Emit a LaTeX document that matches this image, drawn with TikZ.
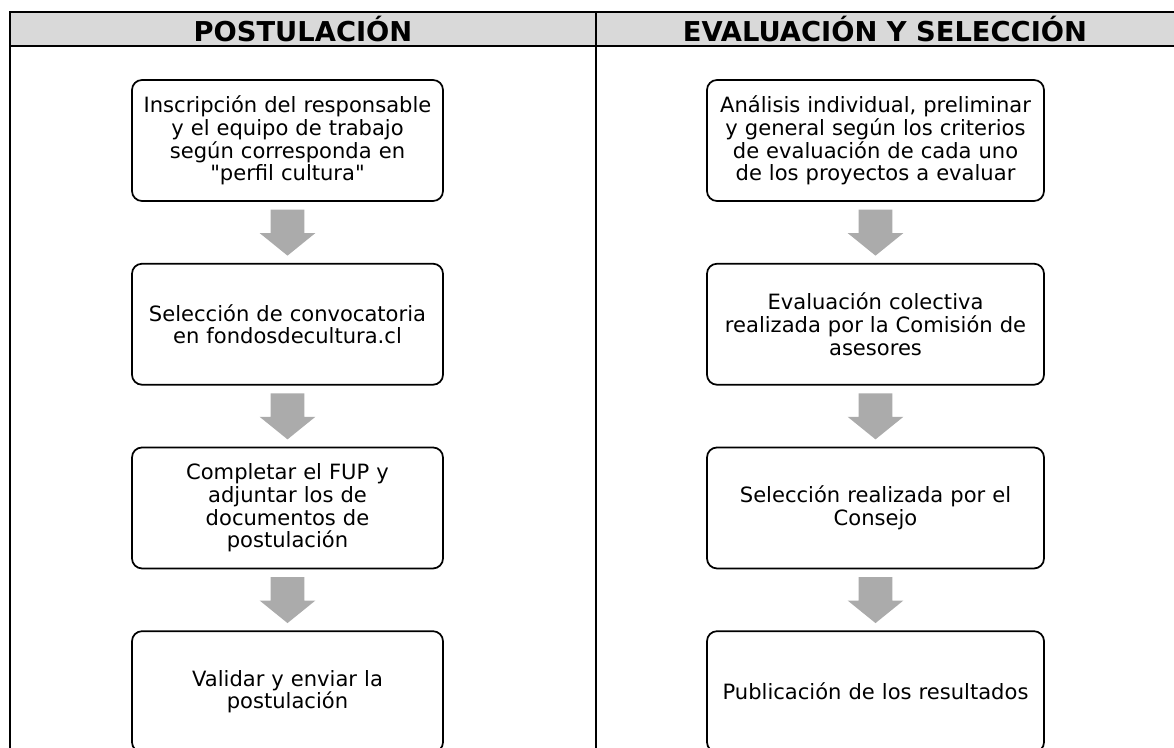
\documentclass[tikz,border=0pt]{standalone}
\usepackage{fontspec}
\setmainfont[Ligatures=TeXOff]{DejaVu Sans}
\usepackage{xcolor}
\usetikzlibrary{positioning,calc,shapes.arrows}

\definecolor{hdrgray}{HTML}{D9D9D9}
\definecolor{arrgray}{HTML}{ABABAB}

\begin{document}
\begin{tikzpicture}[
  x=0.75pt, y=-0.75pt,
  node distance=45.75pt,
  stepbox/.style={draw, line width=1.3pt, rounded corners=7.5pt, align=center,
    minimum height=90.75pt, inner sep=2pt, font=\fontsize{15.8pt}{17pt}\selectfont},
  postbox/.style={stepbox, minimum width=233.25pt, text width=228pt},
  evalbox/.style={stepbox, minimum width=252.75pt, text width=248pt},
  blockarr/.style={single arrow, draw=none, fill=arrgray, shape border rotate=270,
    minimum height=34.5pt, inner xsep=12.4pt, inner ysep=0pt, anchor=tail,
    single arrow head extend=8.25pt, single arrow tip angle=102},
  hdr/.style={font=\fontsize{20.5pt}{24pt}\selectfont\bfseries},
  rule/.style={line width=1.5pt},
]
  \useasboundingbox (0,0) rectangle (1174,748);

  % Table header
  \fill[hdrgray] (10,12) rectangle (1174,46);
  \draw[rule] (1174,12) -- (10,12) -- (10,748);
  \draw[rule] (10,46) -- (1174,46);
  \draw[rule] (596,12) -- (596,748);
  \node[hdr] (hdrPost) at (303,29.5) {POSTULACIÓN};
  \node[hdr] (hdrEval) at (885,29.5) {EVALUACIÓN Y SELECCIÓN};

  % Postulacion column
  \node[postbox] (post1) at (287.5,140.5) {Inscripción del responsable\\y el equipo de trabajo\\según corresponda en\\"perfil cultura"};
  \node[postbox, below=of post1] (post2) {Selección de convocatoria\\en fondosdecultura.cl};
  \node[postbox, below=of post2] (post3) {Completar el FUP y\\adjuntar los de\\documentos de\\postulación};
  \node[postbox, below=of post3] (post4) {Validar y enviar la\\postulación};

  % Evaluacion column
  \node[evalbox] (eval1) at (875.5,140.5) {Análisis individual, preliminar\\y general según los criterios\\de evaluación de cada uno\\de los proyectos a evaluar};
  \node[evalbox, below=of eval1] (eval2) {Evaluación colectiva\\realizada por la Comisión de\\asesores};
  \node[evalbox, below=of eval2] (eval3) {Selección realizada por el\\Consejo};
  \node[evalbox, below=of eval3] (eval4) {Publicación de los resultados};

  % Block arrows between steps
  \foreach \col in {post,eval}{
    \foreach \i in {1,2,3}{
      \node[blockarr] (\col arr\i) at ($(\col\i.south)+(0,7.5)$) {};
    }
  }
\end{tikzpicture}
\end{document}
